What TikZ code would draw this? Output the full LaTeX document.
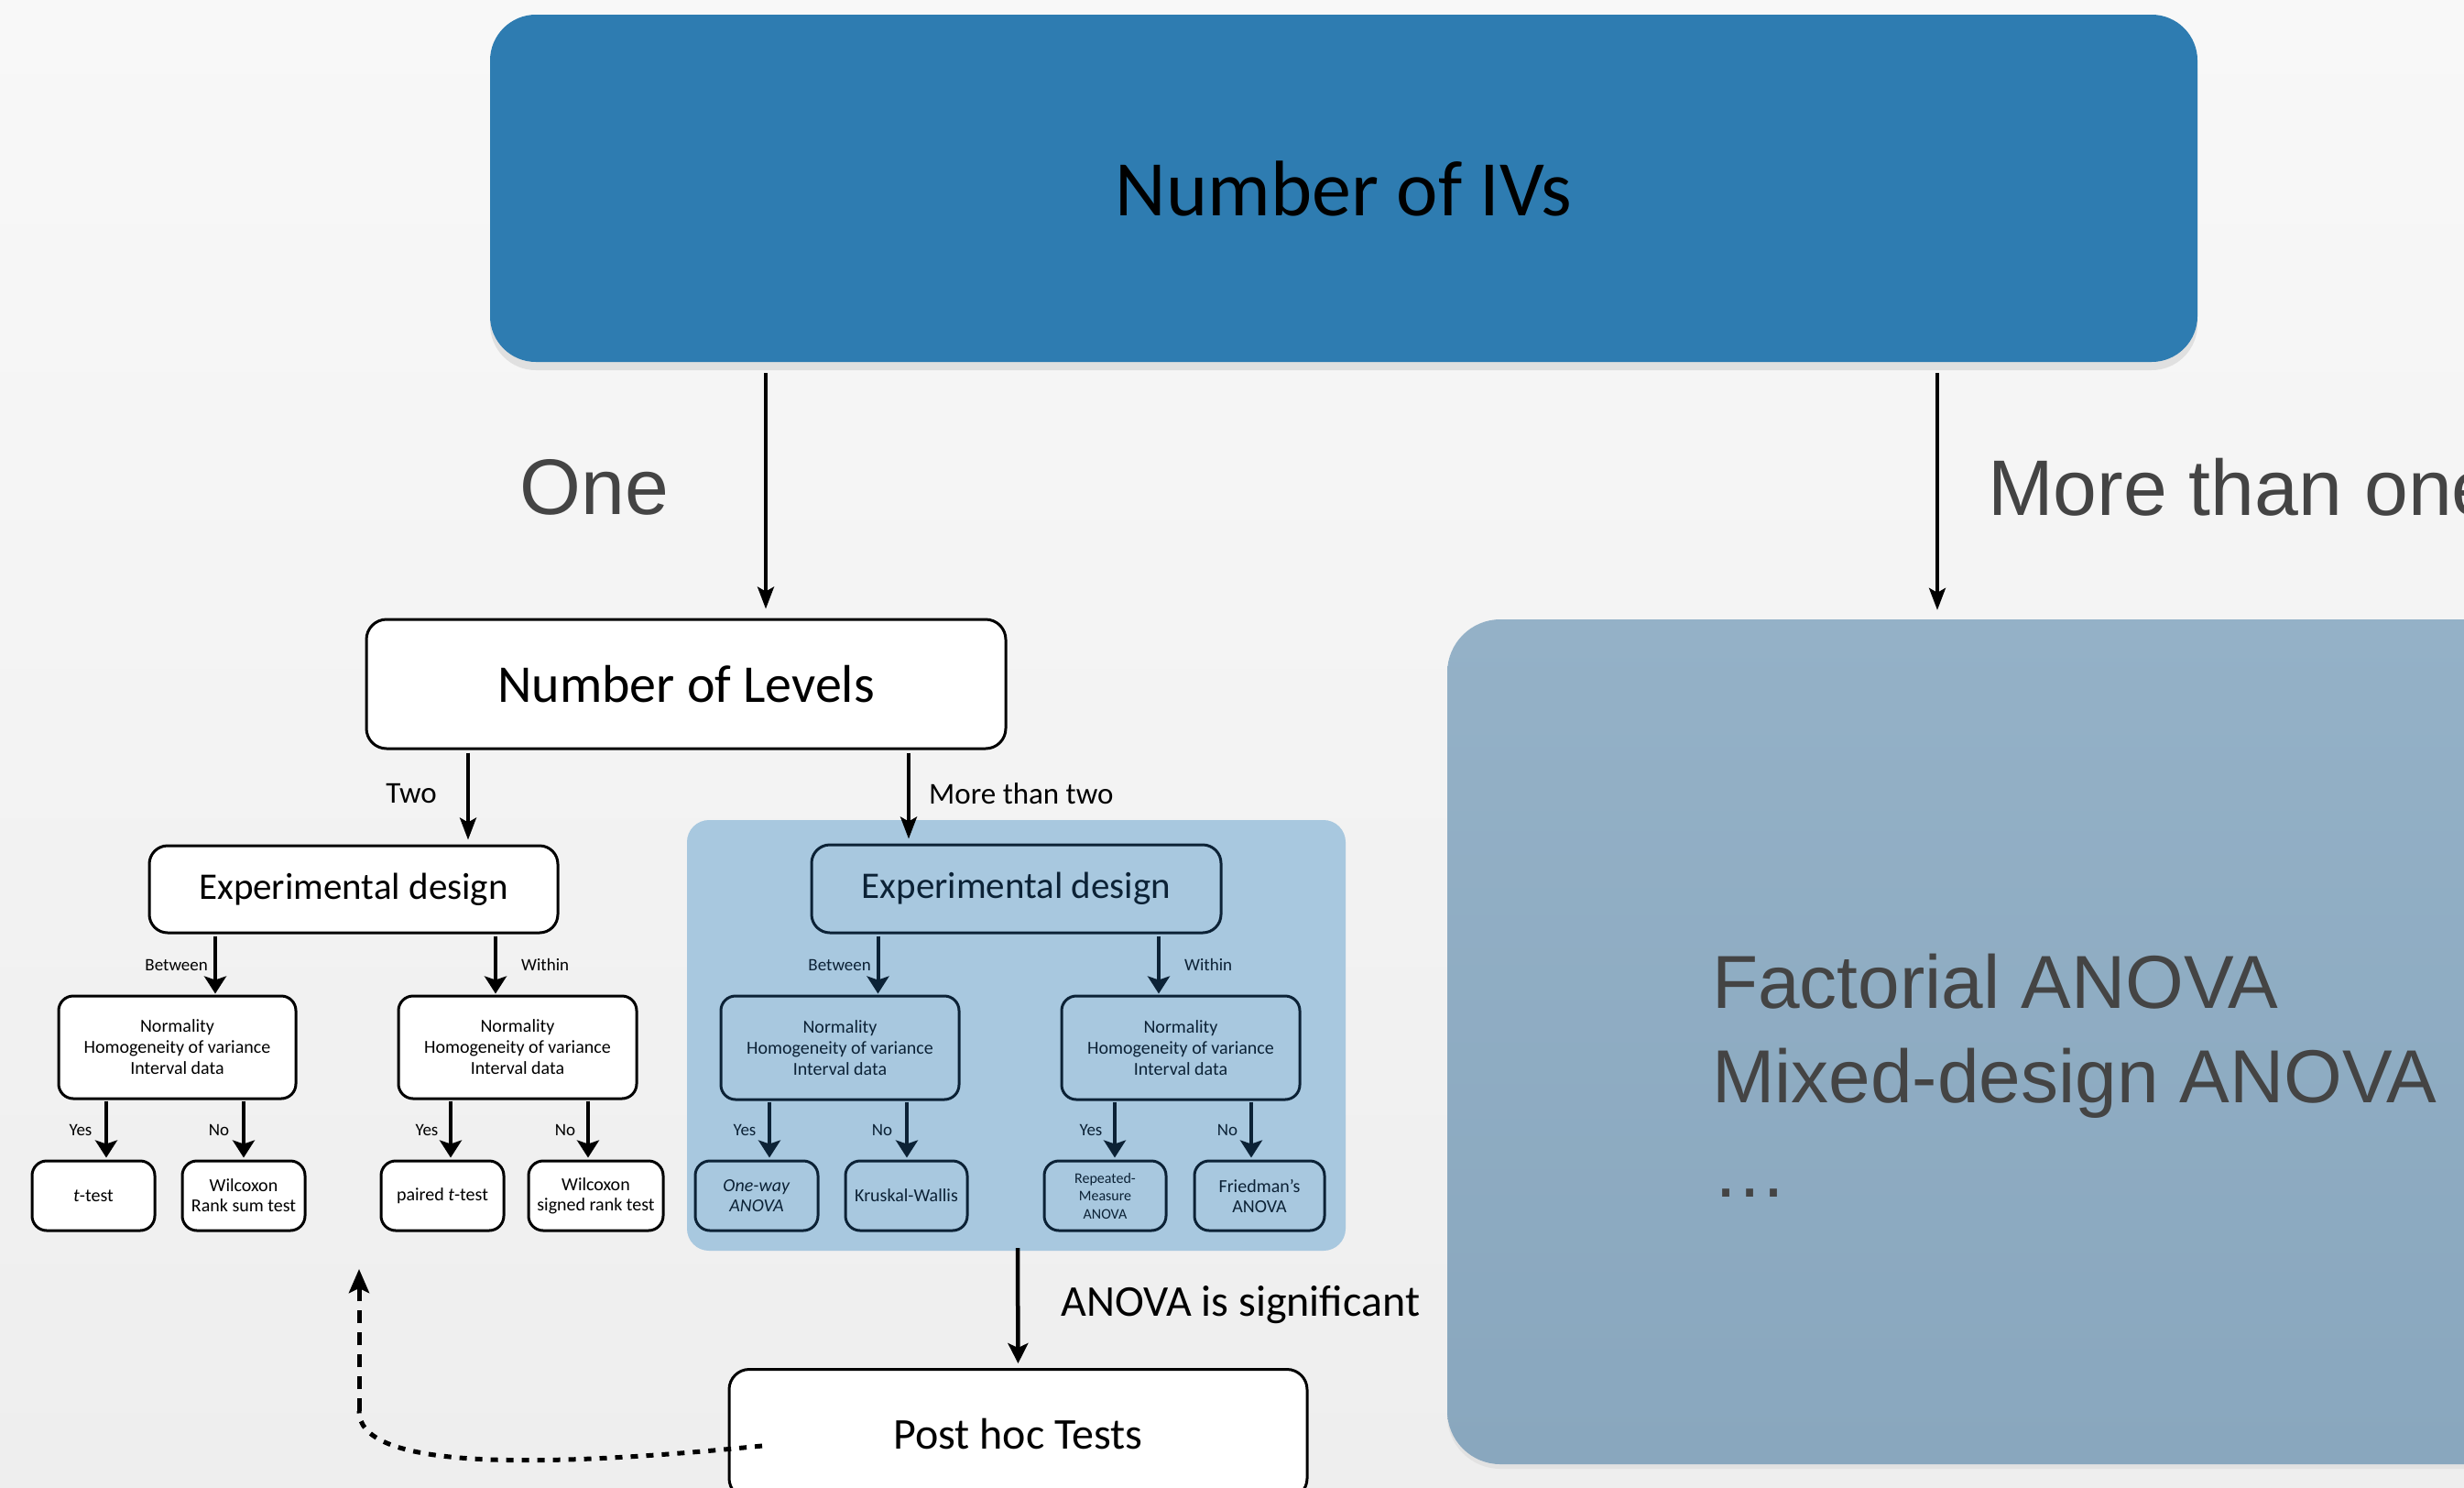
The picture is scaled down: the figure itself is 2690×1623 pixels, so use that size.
\documentclass[tikz,border=0pt]{standalone}
\usepackage{fontspec}
\setmainfont{Carlito}
\newfontfamily\helv{Liberation Sans}
\usetikzlibrary{arrows.meta,shadows,calc}
\definecolor{bgtop}{RGB}{248,248,248}
\definecolor{bgbot}{RGB}{238,238,238}
\definecolor{topblue}{RGB}{46,124,177}
\definecolor{lightblue}{RGB}{168,200,223}
\definecolor{navy}{RGB}{12,34,54}
\definecolor{gbtop}{RGB}{148,177,199}
\definecolor{gbbot}{RGB}{137,167,190}
\definecolor{txtgray}{RGB}{68,68,68}
\newcommand\fs[2]{\fontsize{#1}{#2}\selectfont}
\tikzset{
  arrbig/.style={line width=3.5pt,-{Stealth[length=24pt,width=18pt,inset=5pt]}},
  arrsm/.style={line width=4pt,-{Stealth[length=19pt,width=24pt,inset=4pt]}},
  wbox/.style={draw=black,fill=white,line width=3pt,rounded corners=16pt,inner sep=0pt,align=center},
  bbox/.style={draw=navy,fill=lightblue,text=navy,line width=3pt,rounded corners=16pt,inner sep=0pt,align=center},
  crit/.style={font=\fs{20}{23}},
  leaf/.style={font=\fs{20}{22}},
  lbl/.style={inner sep=0pt,font=\fs{19}{22}},
  biglbl/.style={inner sep=0pt,font=\helv\fs{86}{100},text=txtgray},
}
\begin{document}
\begin{tikzpicture}[x=1pt,y=-1pt]
\useasboundingbox (0,0) rectangle (2690,1623);
\fill[top color=bgtop,bottom color=bgbot] (0,0) rectangle (2690,1623);

% top box
\node[fill=topblue,rounded corners=50pt,minimum width=1864pt,minimum height=379pt,inner sep=0pt,
      drop shadow={shadow xshift=0pt,shadow yshift=-9pt,opacity=0.18},font=\fs{86}{100}]
  (top) at (1467,205.5) {Number of IVs};

% right big box
\node[top color=gbtop,bottom color=gbbot,rounded corners=58pt,minimum width=1180pt,minimum height=922pt,
      inner sep=0pt,drop shadow={shadow xshift=0pt,shadow yshift=-5pt,opacity=0.10}]
  (fact) at (2170,1137) {};
\node[anchor=north west,inner sep=0pt,align=left,font=\helv\fs{82}{103},text=txtgray]
  (facttxt) at (1869,1041) {Factorial ANOVA\\Mixed-design ANOVA\\…};

% labels of first split
\node[biglbl] (one) at (649,532) {One};
\node[biglbl,anchor=west] (more) at (2170,532) {More than one};

% number of levels
\node[wbox,rounded corners=22pt,minimum width=698pt,minimum height=141pt,font=\fs{58}{68}]
  (lev) at (749,746.5) {Number of Levels};

\draw[arrbig,shorten <=12pt,shorten >=10pt] ([xshift=-631pt]top.south) -- ([xshift=87pt]lev.north);
\draw[arrbig,shorten <=12pt,shorten >=10pt] ([xshift=648pt]top.south) -- ([xshift=-55pt]fact.north);

\node[inner sep=0pt,font=\fs{33}{38}] (two) at (449,866) {Two};
\node[inner sep=0pt,font=\fs{33}{38},anchor=west] (mtwo) at (1014,866) {More than two};

% container
\node[fill=lightblue,rounded corners=24pt,minimum width=719pt,minimum height=470pt,inner sep=0pt]
  (cont) at (1109.5,1130) {};

% experimental design boxes
\node[wbox,rounded corners=20pt,minimum width=446pt,minimum height=95pt,font=\fs{41}{47}]
  (ed1) at (386,970.5) {Experimental design};
\node[bbox,rounded corners=20pt,minimum width=447pt,minimum height=96pt,font=\fs{41}{47}]
  (ed2) at (1109.5,970) {Experimental design};

\draw[arrbig,shorten <=3pt,shorten >=5pt] ([xshift=-238pt]lev.south) -- ([xshift=125pt]ed1.north);
\draw[arrbig,shorten <=3pt,shorten >=5pt] ([xshift=243pt]lev.south) -- ([xshift=-117.5pt]ed2.north);

% criteria boxes
\node[wbox,crit,minimum width=259pt,minimum height=112pt] (n1) at (193.5,1143) {Normality\\Homogeneity of variance\\Interval data};
\node[wbox,crit,minimum width=260pt,minimum height=112pt] (n2) at (565,1143) {Normality\\Homogeneity of variance\\Interval data};
\node[bbox,crit,minimum width=260pt,minimum height=113pt] (n3) at (917,1143.5) {Normality\\Homogeneity of variance\\Interval data};
\node[bbox,crit,minimum width=260pt,minimum height=113pt] (n4) at (1289,1143.5) {Normality\\Homogeneity of variance\\Interval data};

\draw[arrsm,shorten <=2pt,shorten >=1pt] ([xshift=-151pt]ed1.south) -- ([xshift=41.5pt]n1.north);
\draw[arrsm,shorten <=2pt,shorten >=1pt] ([xshift=155pt]ed1.south) -- ([xshift=-24pt]n2.north);
\draw[arrsm,navy,shorten <=2pt,shorten >=1pt] ([xshift=-151pt]ed2.south) -- ([xshift=41.5pt]n3.north);
\draw[arrsm,navy,shorten <=2pt,shorten >=1pt] ([xshift=155.5pt]ed2.south) -- ([xshift=-24pt]n4.north);

\node[lbl,anchor=east] (b1) at (227,1053) {Between};
\node[lbl,anchor=west] (w1) at (569,1053) {Within};
\node[lbl,anchor=east,text=navy] (b2) at (951,1053) {Between};
\node[lbl,anchor=west,text=navy] (w2) at (1293,1053) {Within};

% leaves
\node[wbox,leaf,minimum width=134pt,minimum height=76pt] (l1) at (102,1305) {\textit{t}-test};
\node[wbox,leaf,minimum width=134pt,minimum height=76pt] (l2) at (266,1305) {Wilcoxon\\Rank sum test};
\node[wbox,leaf,minimum width=134pt,minimum height=76pt] (l3) at (483,1305) {paired \textit{t}-test};
\node[wbox,leaf,minimum width=147pt,minimum height=76pt] (l4) at (650.5,1305) {Wilcoxon\\signed rank test};
\node[bbox,leaf,minimum width=134pt,minimum height=76pt] (l5) at (826,1305) {\textit{One-way}\\\textit{ANOVA}};
\node[bbox,leaf,minimum width=133pt,minimum height=76pt] (l6) at (989.5,1305) {Kruskal-Wallis};
\node[bbox,font=\fs{16}{19.5},minimum width=133pt,minimum height=76pt] (l7) at (1206.5,1305) {Repeated-\\Measure\\ANOVA};
\node[bbox,leaf,minimum width=142pt,minimum height=76pt] (l8) at (1375,1305) {Friedman’s\\ANOVA};

\draw[arrsm,shorten <=1pt,shorten >=2pt] ([xshift=-77.5pt]n1.south) -- ([xshift=14pt]l1.north);
\draw[arrsm,shorten <=1pt,shorten >=2pt] ([xshift=72.5pt]n1.south) -- (l2.north);
\draw[arrsm,shorten <=1pt,shorten >=2pt] ([xshift=-73pt]n2.south) -- ([xshift=9pt]l3.north);
\draw[arrsm,shorten <=1pt,shorten >=2pt] ([xshift=77pt]n2.south) -- ([xshift=-8.5pt]l4.north);
\draw[arrsm,navy,shorten <=1pt,shorten >=2pt] ([xshift=-77pt]n3.south) -- ([xshift=14pt]l5.north);
\draw[arrsm,navy,shorten <=1pt,shorten >=2pt] ([xshift=73pt]n3.south) -- ([xshift=0.5pt]l6.north);
\draw[arrsm,navy,shorten <=1pt,shorten >=2pt] ([xshift=-72pt]n4.south) -- ([xshift=10.5pt]l7.north);
\draw[arrsm,navy,shorten <=1pt,shorten >=2pt] ([xshift=77pt]n4.south) -- ([xshift=-9pt]l8.north);

\node[lbl] (y1) at (88,1233) {Yes};
\node[lbl] (no1) at (239,1233) {No};
\node[lbl] (y2) at (466,1233) {Yes};
\node[lbl] (no2) at (617,1233) {No};
\node[lbl,text=navy] (y3) at (813,1233) {Yes};
\node[lbl,text=navy] (no3) at (963,1233) {No};
\node[lbl,text=navy] (y4) at (1191,1233) {Yes};
\node[lbl,text=navy] (no4) at (1340,1233) {No};

% post hoc
\node[wbox,rounded corners=22pt,minimum width=631pt,minimum height=141pt,font=\fs{48}{56}]
  (ph) at (1111.5,1565) {Post hoc Tests};
\draw[line width=4.5pt,-{Stealth[length=22pt,width=22pt,inset=5pt]},shorten <=-3pt,shorten >=5pt]
  ([xshift=1.5pt]cont.south) -- (ph.north);
\node[inner sep=0pt,font=\fs{48}{56},anchor=west] (sig) at (1158,1424) {ANOVA is significant};

% dashed return arrow
\coordinate (ret) at (392,1385);
\coordinate (corner) at (392,1540);
\draw[line width=5pt,dash pattern=on 8pt off 9pt]
  ($(ph.center)+(-279.5,13)$) .. controls (560,1605) and (392,1600) .. (corner);
\draw[line width=5pt,dash pattern=on 14pt off 10pt,-{Stealth[length=26pt,width=22pt,inset=5pt]}]
  (corner) -- (ret);
\end{tikzpicture}
\end{document}
